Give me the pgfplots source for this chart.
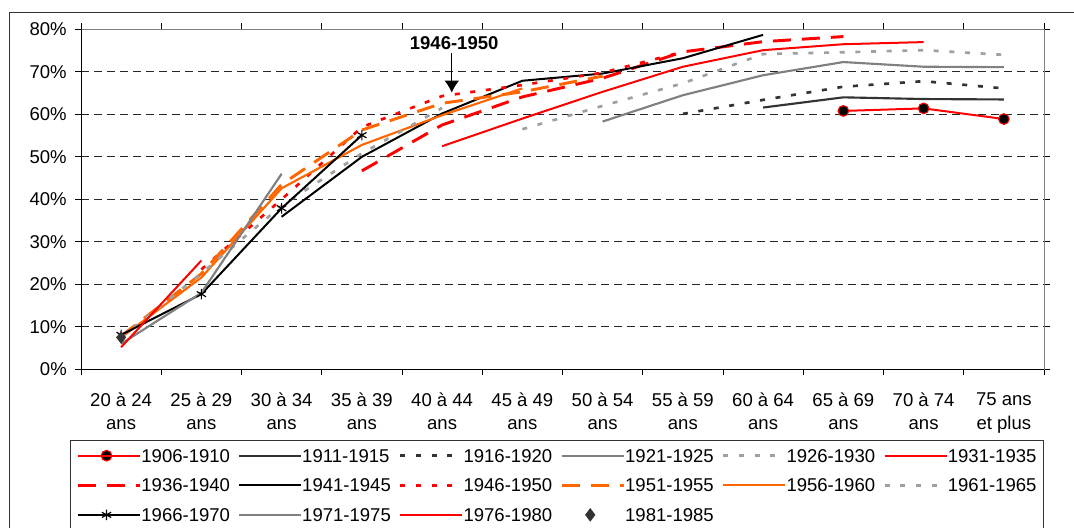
\documentclass[border=0pt]{standalone}
\usepackage{pgfplots}
\pgfplotsset{compat=1.18}
\usepackage{fontspec}
\setmainfont{Liberation Sans}
\usetikzlibrary{arrows.meta}
\definecolor{cred}{RGB}{255,0,0}
\definecolor{dgray}{RGB}{51,51,51}
\definecolor{mgray}{RGB}{128,128,128}
\definecolor{lgray}{RGB}{160,160,160}
\definecolor{corange}{RGB}{255,102,0}
\begin{document}
\begin{tikzpicture}[font=\fontsize{13.9pt}{17.5pt}\selectfont]
\useasboundingbox (0,0) rectangle (805.5pt,396pt);
\fill[white] (0,0) rectangle (805.5pt,396pt);
\draw[black!80, line width=1pt] (7pt,-30pt) -- (7pt,386.5pt) -- (850pt,386.5pt);
\begin{axis}[
 at={(60.75pt,119pt)}, anchor=south west,
 width=722.25pt, height=255pt, scale only axis,
 xmin=-0.5, xmax=11.5, ymin=0, ymax=80,
 xtick={0,...,11},
 xticklabels={20 à 24\\ans, 25 à 29\\ans, 30 à 34\\ans, 35 à 39\\ans, 40 à 44\\ans, 45 à 49\\ans, 50 à 54\\ans, 55 à 59\\ans, 60 à 64\\ans, 65 à 69\\ans, 70 à 74\\ans, 75 ans\\et plus},
 xticklabel style={align=center, anchor=north, inner sep=0pt, yshift=-13pt},
 minor xtick={-0.5,0.5,...,11.5},
 ytick={0,10,...,80},
 yticklabels={0\%,10\%,20\%,30\%,40\%,50\%,60\%,70\%,80\%},
 yticklabel style={anchor=east, inner sep=0pt, xshift=-6pt},
 tick align=outside,
 major tick length=4.5pt, minor tick length=4.5pt,
 major x tick style={draw=none},
 minor x tick style={black, line width=0.75pt},
 major y tick style={black, line width=0.75pt},
 ymajorgrids,
 major grid style={black!85, line width=0.75pt, dash pattern=on 6pt off 3.75pt},
 axis line style={mgray, line width=0.75pt},
 legend columns=6,
 legend cell align=left,
 legend style={at={(-0.01142,-0.2079)}, anchor=north west, draw=black!80, line width=0.75pt,
   inner xsep=4.5pt, inner ysep=6.4pt, row sep=12.25pt,
   nodes={inner sep=0pt, text height=9.95pt, text depth=0pt, text width=67.5pt, align=left},
   /tikz/every even column/.append style={column sep=5pt}},
 legend image code/.code={\draw[mark repeat=2,mark phase=2,#1] plot coordinates {(0pt,0pt) (21.4pt,0pt) (42.75pt,0pt)}; \path (0pt,0pt) -- (46.5pt,0pt);},
]
% 1906-1910
\addplot[cred, line width=1.5pt, mark=*, mark size=4pt, mark options={solid, fill=black, draw=cred, line width=0.8pt}] coordinates {(9,60.8) (10,61.4) (11,58.9)};
\addlegendentry{1906-1910}
% 1911-1915
\addplot[dgray, line width=1.6pt] coordinates {(8,61.6) (9,64.0) (10,63.6) (11,63.5)};
\addlegendentry{1911-1915}
% 1916-1920
\addplot[dgray, line width=2pt, dash pattern=on 3.75pt off 8pt] coordinates {(7,60.1) (8,63.4) (9,66.5) (10,67.8) (11,66.1)};
\addlegendentry{1916-1920}
% 1921-1925
\addplot[mgray, line width=1.6pt] coordinates {(6,58.3) (7,64.5) (8,69.2) (9,72.3) (10,71.2) (11,71.1)};
\addlegendentry{1921-1925}
% 1926-1930
\addplot[lgray, line width=2pt, dash pattern=on 3.75pt off 8pt] coordinates {(5,56.5) (6,62.0) (7,67.3) (8,74.2) (9,74.6) (10,75.1) (11,74.0)};
\addlegendentry{1926-1930}
% 1931-1935
\addplot[cred, line width=1.5pt] coordinates {(4,52.5) (5,59.0) (6,65.3) (7,71.2) (8,75.1) (9,76.5) (10,77.0)};
\addlegendentry{1931-1935}
% 1936-1940
\addplot[cred, line width=2.2pt, dash pattern=on 13.5pt off 8.25pt] coordinates {(3,46.7) (4,57.5) (5,64.1) (6,68.5) (7,74.7) (8,77.1) (9,78.3)};
\addlegendentry{1936-1940}
% 1941-1945
\addplot[black, line width=1.5pt] coordinates {(2,35.9) (3,50.0) (4,60.2) (5,67.9) (6,69.6) (7,73.2) (8,78.7)};
\addlegendentry{1941-1945}
% 1946-1950
\addplot[cred, line width=2pt, dash pattern=on 3.75pt off 8pt] coordinates {(1,23.5) (2,40.0) (3,57.0) (4,64.3) (5,66.9) (6,69.8) (7,74.7)};
\addlegendentry{1946-1950}
% 1951-1955
\addplot[corange, line width=2.2pt, dash pattern=on 13.5pt off 8.25pt] coordinates {(0,7.8) (1,22.5) (2,43.5) (3,56.3) (4,62.6) (5,65.3) (6,69.0)};
\addlegendentry{1951-1955}
% 1956-1960
\addplot[corange, line width=1.6pt] coordinates {(0,7.5) (1,21.6) (2,42.6) (3,52.8) (4,59.8) (5,66.1)};
\addlegendentry{1956-1960}
% 1961-1965
\addplot[lgray, line width=2pt, dash pattern=on 3.75pt off 8pt] coordinates {(0,7.5) (1,22.6) (2,38.5) (3,50.8) (4,61.5)};
\addlegendentry{1961-1965}
% 1966-1970
\addplot[black, line width=1.5pt, mark=asterisk, mark size=4pt, mark options={solid, line width=0.9pt}] coordinates {(0,8.1) (1,17.7) (2,37.9) (3,55.1)};
\addlegendentry{1966-1970}
% 1971-1975
\addplot[mgray, line width=1.6pt] coordinates {(0,6.0) (1,18.0) (2,46.0)};
\addlegendentry{1971-1975}
% 1976-1980
\addplot[cred, line width=1.5pt] coordinates {(0,5.2) (1,25.6)};
\addlegendentry{1976-1980}
% 1981-1985
\addplot[only marks, draw=none, mark=diamond*, mark size=4.5pt, mark options={fill=dgray, draw=dgray}] coordinates {(0,7.5)};
\addlegendentry{1981-1985}
\draw[black, line width=0.9pt] (rel axis cs:0,1) -- (rel axis cs:0,0) -- (rel axis cs:1,0);
\node[font=\bfseries\fontsize{13.9pt}{17pt}\selectfont, inner sep=0pt] at (axis cs:4.15,76.8) {1946-1950};
\draw[black, line width=0.9pt, -{Latex[length=9pt,width=11pt]}] (axis cs:4.12,74.4) -- (axis cs:4.12,65.1);
\end{axis}
\end{tikzpicture}
\end{document}
